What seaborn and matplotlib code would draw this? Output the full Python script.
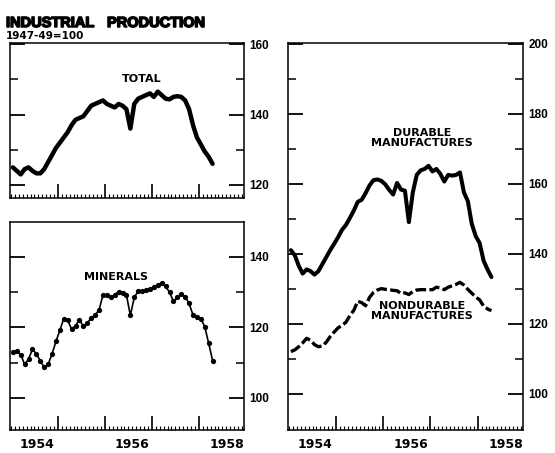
import matplotlib
matplotlib.use('Agg')
import matplotlib.pyplot as plt
import matplotlib.patheffects as pe
import seaborn as sns

# Monthly index values, Jan 1954 - Apr 1958 (1947-49=100)
months = [1954 + (i + 0.5) / 12 for i in range(52)]

total = [125, 124, 123, 124.5, 125, 124, 123.3, 123.3, 124.5, 126.5, 128.5, 130.5,
         132, 133.5, 135, 137, 138.5, 139, 139.5, 141, 142.5, 143, 143.5, 144,
         143, 142.5, 142, 143, 142.5, 141.5, 136, 143, 144.5, 145, 145.5, 146,
         145, 146.5, 145.5, 144.5, 144.3, 145, 145.2, 145, 144, 141.5, 137, 133.5,
         131.5, 129.5, 128, 126]

minerals = [113, 113.2, 112.3, 109.5, 111, 113.8, 112.5, 110.5, 108.7, 109.5, 112.5, 116,
            119.2, 122.5, 122, 119.5, 120.5, 122.2, 120.3, 121.3, 122.6, 123.5, 124.9, 129.2,
            129.3, 128.5, 129.3, 130.1, 129.7, 129.2, 123.4, 128.5, 130.3, 130.3, 130.5, 130.9,
            131.4, 132, 132.6, 131.6, 130, 127.4, 128.5, 129.4, 128.7, 126.8, 123.5, 123,
            122.5, 120.2, 115.5, 110.6]

durable = [141, 139.5, 136.5, 134.3, 135.5, 135, 134, 135, 137, 139, 141, 142.8,
           144.7, 146.8, 148.2, 150.2, 152.3, 154.8, 155.4, 157.3, 159.5, 161, 161.2, 160.8,
           159.8, 158.2, 156.9, 160.2, 158.3, 158, 149, 157.5, 162.5, 163.8, 164.2, 165.1,
           163.5, 164.2, 162.8, 160.6, 162.5, 162.3, 162.5, 163.2, 157.5, 155, 148.5, 145,
           143, 138, 135.5, 133.3]

nondurable = [112, 112.5, 113.4, 114.5, 115.8, 115.2, 114, 113.4, 113.6, 114.7, 116.3, 117.6,
              118.8, 119.5, 120.4, 122.3, 123.8, 126.4, 126, 125.1, 127.5, 128.9, 129.6, 130,
              129.8, 129.7, 129.5, 129.4, 128.6, 128.8, 128.3, 129.2, 129.6, 129.7, 129.7, 129.7,
              129.7, 130.4, 130.2, 129.7, 130.4, 130.8, 131.2, 131.8, 131, 129.8, 128.7, 127.6,
              126.8, 125, 124.2, 123.7]

year_ticks = [1955, 1956, 1957, 1958]
month_ticks = [1954 + i / 12 for i in range(60)]
year_labels = ['1954', '1956', '1958']
year_label_pos = [1954.55, 1956.58, 1958.6]

sns.set_style('ticks')
plt.rcParams['font.family'] = ['DejaVu Sans']
plt.rcParams['text.color'] = 'black'
plt.rcParams['xtick.color'] = 'black'
plt.rcParams['ytick.color'] = 'black'
plt.rcParams['axes.edgecolor'] = 'black'

fig = plt.figure(figsize=(5.55, 4.53), dpi=100)
ax_tot = fig.add_axes([0.018, 0.5629, 0.4216, 0.3422])
ax_min = fig.add_axes([0.018, 0.0508, 0.4216, 0.4592])
ax_man = fig.add_axes([0.5189, 0.0508, 0.4234, 0.8543])


def style_axes(ax, ylim, major, minor, years=False):
    ax.set_xlim(1953.98, 1958.96)
    ax.set_ylim(*ylim)
    ax.set_xlabel('')
    ax.set_ylabel('')
    for s in ax.spines.values():
        s.set_visible(True)
        s.set_linewidth(1.1)
        s.set_color('black')
    ax.set_xticks(year_ticks)
    ax.set_xticks(month_ticks, minor=True)
    ax.set_xticklabels([])
    ax.tick_params(axis='x', which='major', direction='in', length=10, width=1.2,
                   bottom=True, top=False, labelbottom=False)
    ax.tick_params(axis='x', which='minor', direction='in', length=3, width=0.8,
                   bottom=True, top=False)
    ax.set_yticks(major)
    ax.set_yticks(minor, minor=True)
    ax.set_yticklabels([str(v) for v in major], fontfamily='Liberation Sans',
                       fontweight='bold', fontsize=8.5, color='black')
    ax.tick_params(axis='y', which='major', direction='in', length=11, width=1.3,
                   left=True, right=True, labelleft=False, labelright=True, pad=4)
    ax.tick_params(axis='y', which='minor', direction='in', length=6, width=1.1,
                   left=True, right=True)
    if years:
        for pos, lab in zip(year_label_pos, year_labels):
            ax.annotate(lab, xy=(pos, 0), xycoords=('data', 'axes fraction'),
                        xytext=(0, -6), textcoords='offset points', ha='center', va='top',
                        fontsize=9, fontweight='bold', color='black')


# Total
sns.lineplot(x=months, y=total, ax=ax_tot, color='black', linewidth=3.2,
             solid_capstyle='round', solid_joinstyle='round')
style_axes(ax_tot, (116.3, 160.3), [120, 140, 160], [130, 150])
ax_tot.text(1956.79, 150, 'TOTAL', ha='center', va='center', fontsize=8, fontweight='bold')

# Minerals
sns.lineplot(x=months, y=minerals, ax=ax_min, color='black', linewidth=1.2,
             marker='o', markersize=3.8, markeredgewidth=0)
style_axes(ax_min, (90.9, 149.9), [100, 120, 140], [110, 130], years=True)
ax_min.text(1956.23, 134.2, 'MINERALS', ha='center', va='center', fontsize=8, fontweight='bold')

# Durable and nondurable manufactures
sns.lineplot(x=months, y=durable, ax=ax_man, color='black', linewidth=2.9,
             solid_capstyle='round', solid_joinstyle='round')
sns.lineplot(x=months, y=nondurable, ax=ax_man, color='black', linewidth=2.4,
             linestyle=(0, (3.2, 1.0)))
style_axes(ax_man, (89.6, 200.2), [100, 120, 140, 160, 180, 200],
           [110, 130, 150, 170, 190], years=True)
ax_man.text(1956.82, 173, 'DURABLE\nMANUFACTURES', ha='center', va='center',
            fontsize=8, fontweight='bold', linespacing=1.0)
ax_man.text(1956.82, 123.7, 'NONDURABLE\nMANUFACTURES', ha='center', va='center',
            fontsize=8, fontweight='bold', linespacing=1.0)

# heavy block title
heavy = [pe.withStroke(linewidth=1.1, foreground='black')]
fig.text(6 / 555, 1 - 27 / 453, 'INDUSTRIAL', fontfamily='Liberation Sans',
         fontweight='bold', fontsize=10.5, va='baseline', ha='left', path_effects=heavy)
fig.text(107 / 555, 1 - 27 / 453, 'PRODUCTION', fontfamily='Liberation Sans',
         fontweight='bold', fontsize=10.5, va='baseline', ha='left', path_effects=heavy)
fig.text(6 / 555, 1 - 39 / 453, '1947-49=100', fontweight='bold', fontsize=7.5,
         va='baseline', ha='left')

fig.savefig('out.png', dpi=100)
